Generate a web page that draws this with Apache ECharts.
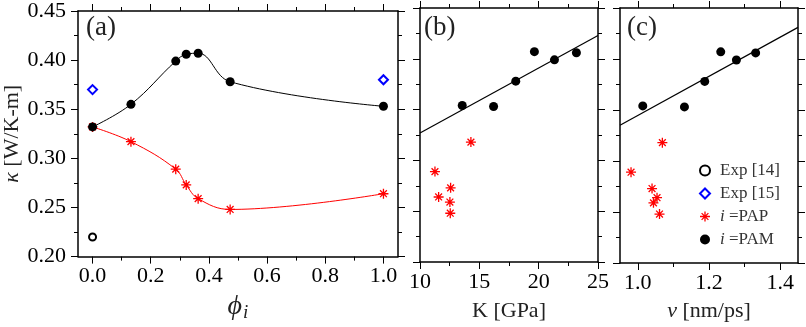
<!DOCTYPE html>
<html>
<head>
<meta charset="utf-8">
<script src="https://cdn.jsdelivr.net/npm/echarts@6/dist/echarts.min.js"></script>
<style>
html, body { margin: 0; padding: 0; background: #fff; }
#chart { width: 806px; height: 327px; }
</style>
</head>
<body>
<div id="chart"></div>
<script>
// (a) kappa against phi_i
var phiPAM = [0.0, 0.132, 0.286, 0.322, 0.363, 0.473, 1.0];
var kapPAM = [0.332, 0.355, 0.399, 0.406, 0.407, 0.378, 0.353];
var phiPAP = [0.0, 0.132, 0.286, 0.322, 0.363, 0.473, 1.0];
var kapPAP = [0.332, 0.317, 0.289, 0.273, 0.259, 0.248, 0.264];
var phiExp14 = [0.0];
var kapExp14 = [0.22];
var phiExp15 = [0.0, 1.0];
var kapExp15 = [0.37, 0.38];

// (b) kappa against bulk modulus K
var bulkPAM = [13.56, 16.2, 18.07, 19.64, 21.33, 23.18];
var kapPAMb = [0.354, 0.353, 0.378, 0.407, 0.399, 0.406];
var bulkPAP = [14.29, 11.26, 12.58, 11.57, 12.52, 12.55];
var kapPAPb = [0.318, 0.289, 0.273, 0.264, 0.259, 0.248];
var fitBulk = [10, 25];
var fitBulkKap = [0.327, 0.423];

// (c) kappa against sound velocity v
var velPAM = [1.014, 1.131, 1.188, 1.233, 1.277, 1.331];
var kapPAMc = [0.354, 0.353, 0.378, 0.407, 0.399, 0.406];
var velPAP = [1.069, 0.981, 1.040, 1.054, 1.044, 1.061];
var kapPAPc = [0.318, 0.289, 0.273, 0.264, 0.259, 0.248];
var fitVel = [0.95, 1.45];
var fitVelKap = [0.335, 0.431];

// ticks
var yMajor = [0.20, 0.25, 0.30, 0.35, 0.40, 0.45];
var yMinor = [0.225, 0.275, 0.325, 0.375, 0.425];
var phiMajor = [0.0, 0.2, 0.4, 0.6, 0.8, 1.0];
var phiMinor = [0.1, 0.3, 0.5, 0.7, 0.9];
var bulkMajor = [10, 15, 20, 25];
var bulkMinor = [12.5, 17.5, 22.5];
var velMajor = [1.0, 1.2, 1.4];
var velMinor = [1.1, 1.3];

var font = 'Liberation Serif';
var ast = 'path://M0,5L10,5M5,0L5,10M1.6,1.6L8.4,8.4M8.4,1.6L1.6,8.4';

function zip(a, b) {
    var out = [];
    for (var i = 0; i < a.length; i++) out.push([a[i], b[i]]);
    return out;
}

function xAx(gi, pos, min, max, vals, len, main, labels, dec) {
    return {
        type: 'value', gridIndex: gi, position: pos, min: min, max: max,
        axisLine: {show: main, onZero: false, lineStyle: {color: '#000', width: 1.5}},
        axisTick: {show: true, inside: false, length: len, customValues: vals,
            lineStyle: {color: '#000', width: 1}},
        axisLabel: {show: labels, customValues: vals, margin: 9, color: '#000',
            fontFamily: font, fontSize: 22,
            formatter: function (v) { return dec ? v.toFixed(dec) : String(v); }},
        splitLine: {show: false}
    };
}

function yAx(gi, pos, vals, len, main, labels) {
    return {
        type: 'value', gridIndex: gi, position: pos, min: 0.2, max: 0.45,
        axisLine: {show: main, onZero: false, lineStyle: {color: '#000', width: 1.5}},
        axisTick: {show: true, inside: false, length: len, customValues: vals,
            lineStyle: {color: '#000', width: 1}},
        axisLabel: {show: labels, customValues: vals, margin: 12, color: '#000',
            fontFamily: font, fontSize: 22,
            formatter: function (v) { return v.toFixed(2); }},
        splitLine: {show: false}
    };
}

var xAxes = [];
// (a)
var xa = xAx(0, 'bottom', -0.05, 1.05, phiMajor, 7, true, true, 1);
xa.name = '{p|ϕ}{s|i}';
xa.nameLocation = 'middle';
xa.nameGap = 34;
xa.nameTextStyle = {rich: {
    p: {fontFamily: font, fontSize: 28, fontStyle: 'italic', color: '#222'},
    s: {fontFamily: font, fontSize: 19, fontStyle: 'italic', color: '#222', padding: [12, 0, 0, 1]}
}};
xAxes.push(xa);
xAxes.push(xAx(0, 'bottom', -0.05, 1.05, phiMinor, 4, false, false));
xAxes.push(xAx(0, 'top', -0.05, 1.05, phiMajor, 7, true, false));
xAxes.push(xAx(0, 'top', -0.05, 1.05, phiMinor, 4, false, false));
// (b)
var xb = xAx(1, 'bottom', 10, 25, bulkMajor, 7, true, true, 0);
xb.name = 'K [GPa]';
xb.nameLocation = 'middle';
xb.nameGap = 38;
xb.nameTextStyle = {fontFamily: font, fontSize: 22, color: '#222'};
xAxes.push(xb);
xAxes.push(xAx(1, 'bottom', 10, 25, bulkMinor, 4, false, false));
xAxes.push(xAx(1, 'top', 10, 25, bulkMajor, 7, true, false));
xAxes.push(xAx(1, 'top', 10, 25, bulkMinor, 4, false, false));
// (c)
var xc = xAx(2, 'bottom', 0.95, 1.45, velMajor, 7, true, true, 1);
xc.name = '{v|v} [nm/ps]';
xc.nameLocation = 'middle';
xc.nameGap = 37;
xc.nameTextStyle = {fontFamily: font, fontSize: 22, color: '#222',
    rich: {v: {fontFamily: font, fontSize: 22, fontStyle: 'italic', color: '#222'}}};
xAxes.push(xc);
xAxes.push(xAx(2, 'bottom', 0.95, 1.45, velMinor, 4, false, false));
xAxes.push(xAx(2, 'top', 0.95, 1.45, velMajor, 7, true, false));
xAxes.push(xAx(2, 'top', 0.95, 1.45, velMinor, 4, false, false));

var yAxes = [];
for (var g = 0; g < 3; g++) {
    var yl = yAx(g, 'left', yMajor, 7, true, g === 0);
    if (g === 0) {
        yl.name = '{k|κ} [W/K-m]';
        yl.nameLocation = 'middle';
        yl.nameRotate = 90;
        yl.nameGap = 55;
        yl.nameTextStyle = {fontFamily: font, fontSize: 22, color: '#222',
            rich: {k: {fontFamily: font, fontSize: 22, fontStyle: 'italic', color: '#222'}}};
    }
    yAxes.push(yl);
    yAxes.push(yAx(g, 'left', yMinor, 4, false, false));
    yAxes.push(yAx(g, 'right', yMajor, 7, true, false));
    yAxes.push(yAx(g, 'right', yMinor, 4, false, false));
}

var pamStyle = {color: '#000', opacity: 1};
var papStyle = {color: '#ff0000', borderColor: '#ff0000', borderWidth: 1.3, opacity: 1};
var titleText = {fontFamily: font, fontSize: 27, fontWeight: 'normal', color: '#222'};

var option = {
    animation: false,
    backgroundColor: '#fff',
    grid: [
        {left: 78, top: 8, width: 320, height: 258},
        {left: 420, top: 8, width: 178, height: 258},
        {left: 620, top: 8, width: 178, height: 258}
    ],
    title: [
        {text: '(a)', left: 86, top: 14, padding: 0, textStyle: titleText},
        {text: '(b)', left: 424, top: 14, padding: 0, textStyle: titleText},
        {text: '(c)', left: 627, top: 14, padding: 0, textStyle: titleText}
    ],
    legend: {
        orient: 'vertical', left: 699, top: 162, padding: 0,
        itemWidth: 10, itemHeight: 10, itemGap: 6,
        selectedMode: false,
        data: [
            {name: 'Exp [14]', icon: 'emptyCircle'},
            {name: 'Exp [15]', icon: 'emptyDiamond'},
            {name: 'PAP', icon: ast, itemStyle: papStyle},
            {name: 'PAM', icon: 'circle'}
        ],
        formatter: function (n) {
            if (n === 'PAP' || n === 'PAM') return '{it|i} =' + n;
            return n;
        },
        textStyle: {fontFamily: font, fontSize: 17, color: '#333', padding: [0, 0, 0, 5],
            rich: {it: {fontFamily: font, fontSize: 17, fontStyle: 'italic', color: '#333'}}}
    },
    xAxis: xAxes,
    yAxis: yAxes,
    series: [
        {name: 'PAM', type: 'line', xAxisIndex: 0, yAxisIndex: 0, data: zip(phiPAM, kapPAM),
            smooth: 0.4, symbol: 'circle', symbolSize: 9, itemStyle: pamStyle,
            lineStyle: {color: '#000', width: 1}, z: 5},
        {name: 'PAP', type: 'line', xAxisIndex: 0, yAxisIndex: 0, data: zip(phiPAP, kapPAP),
            smooth: 0.4, symbol: ast, symbolSize: 10, itemStyle: papStyle,
            lineStyle: {color: '#ff0000', width: 1}, z: 4},
        {name: 'Exp [14]', type: 'scatter', xAxisIndex: 0, yAxisIndex: 0, data: zip(phiExp14, kapExp14),
            symbol: 'emptyCircle', symbolSize: 7, itemStyle: {color: '#000', borderWidth: 1, opacity: 1}},
        {name: 'Exp [15]', type: 'scatter', xAxisIndex: 0, yAxisIndex: 0, data: zip(phiExp15, kapExp15),
            symbol: 'emptyDiamond', symbolSize: 9, itemStyle: {color: '#0000ff', borderWidth: 1, opacity: 1}},

        {name: 'PAM', type: 'scatter', xAxisIndex: 4, yAxisIndex: 4, data: zip(bulkPAM, kapPAMb),
            symbol: 'circle', symbolSize: 9, itemStyle: pamStyle},
        {name: 'PAP', type: 'scatter', xAxisIndex: 4, yAxisIndex: 4, data: zip(bulkPAP, kapPAPb),
            symbol: ast, symbolSize: 10, itemStyle: papStyle},
        {name: 'fitK', type: 'line', xAxisIndex: 4, yAxisIndex: 4, data: zip(fitBulk, fitBulkKap),
            symbol: 'none', lineStyle: {color: '#000', width: 1.2}},

        {name: 'PAM', type: 'scatter', xAxisIndex: 8, yAxisIndex: 8, data: zip(velPAM, kapPAMc),
            symbol: 'circle', symbolSize: 9, itemStyle: pamStyle},
        {name: 'PAP', type: 'scatter', xAxisIndex: 8, yAxisIndex: 8, data: zip(velPAP, kapPAPc),
            symbol: ast, symbolSize: 10, itemStyle: papStyle},
        {name: 'fitV', type: 'line', xAxisIndex: 8, yAxisIndex: 8, data: zip(fitVel, fitVelKap),
            symbol: 'none', lineStyle: {color: '#000', width: 1.2}}
    ]
};

var myChart = echarts.init(document.getElementById('chart'), null, {renderer: 'canvas'});
myChart.setOption(option);
</script>
</body>
</html>
